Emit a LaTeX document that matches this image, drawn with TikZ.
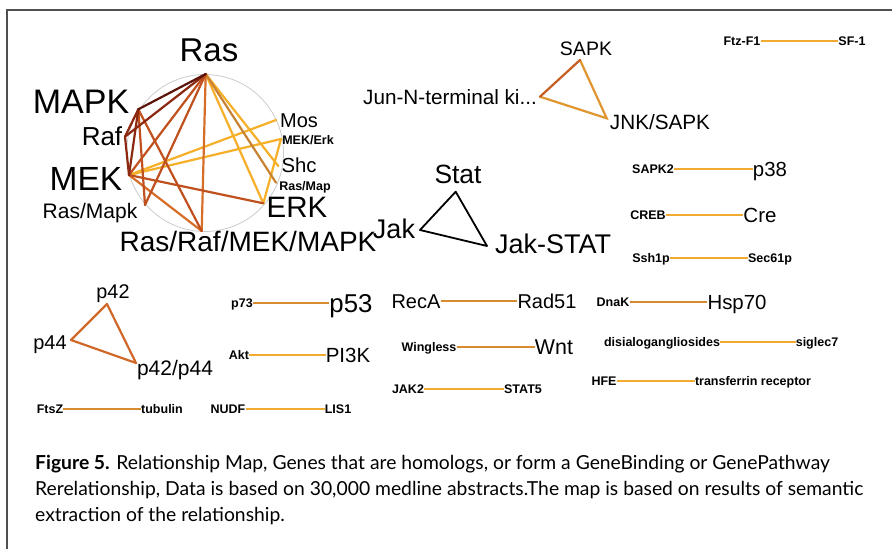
\documentclass[tikz,border=0pt]{standalone}
\usepackage{fontspec}
\setmainfont{Liberation Sans}
\newfontfamily\capfont{Lato}
\definecolor{cA}{HTML}{5A140A}
\definecolor{cB}{HTML}{8C280F}
\definecolor{cC}{HTML}{C0501E}
\definecolor{cD}{HTML}{D76E28}
\definecolor{cE}{HTML}{C88232}
\definecolor{cF}{HTML}{F5AF28}
\definecolor{cY}{HTML}{F0AA32}
\definecolor{cO}{HTML}{D88A30}
\definecolor{cT}{HTML}{D0682A}
\definecolor{cS}{HTML}{E0952F}
\definecolor{frame}{HTML}{505050}
\tikzset{
  lab/.style={inner sep=0pt, font=\fontsize{#1}{#1}\selectfont, text height={0.72*#1pt}, text depth=0pt},
  blab/.style={inner sep=0pt, font=\fontsize{#1}{#1}\selectfont\bfseries, text height={0.72*#1pt}, text depth=0pt},
  edg/.style={draw=#1, line width=2.2pt, line cap=round},
  sedg/.style={draw=#1, line width=2.2pt},
  capline/.style={inner sep=0pt, anchor=base west, font=\capfont\fontsize{19.3}{22}\selectfont}
}
\begin{document}
\begin{tikzpicture}[x=1pt,y=-1pt]
\useasboundingbox (0,0) rectangle (892,549);
\fill[white] (0,0) rectangle (892,549);
% frame
\coordinate (fTR) at (892,10);
\coordinate (fTL) at (7,10);
\coordinate (fBL) at (7,549);
\draw[frame, line width=1.3pt] (fTR) -- (fTL) -- (fBL);

% ---------- Ras cluster ----------
\coordinate (cc) at (205,153);
\draw[black!20, line width=0.8pt] (cc) circle (78.5);
\coordinate (vRas) at (205.7,74);
\coordinate (vMAPK) at (138.3,109.3);
\coordinate (vRaf) at (125,136.7);
\coordinate (vMEK) at (129,175);
\coordinate (vRasMapk) at (145,205);
\coordinate (vRRMM) at (201.7,231);
\coordinate (vERK) at (263.3,203.3);
\coordinate (vRasMap) at (276,182.7);
\coordinate (vShc) at (278.3,166);
\coordinate (vMEKErk) at (281,139);
\coordinate (vMos) at (276,120);

\draw[edg=cF] (vRas) -- (vERK);
\draw[edg=cF] (vRas) -- (vShc);
\draw[edg=cF] (vMEK) -- (vMos);
\draw[edg=cF] (vMEK) -- (vMEKErk);
\draw[edg=cF] (vMEKErk) -- (vERK);
\draw[edg=cE] (vRas) -- (vRasMap);
\draw[edg=cD] (vRas) -- (vRRMM);
\draw[edg=cD] (vMEK) -- (vRRMM);
\draw[edg=cC] (vMEK) -- (vERK);
\draw[edg=cC] (vMAPK) -- (vRRMM);
\draw[edg=cC] (vMAPK) -- (vRasMapk);
\draw[edg=cC] (vRas) -- (vRasMapk);
\draw[edg=cC] (vRas) -- (vMEK);
\draw[edg=cB] (vMAPK) -- (vMEK);
\draw[edg=cB] (vRaf) -- (vMEK);
\draw[edg=cB] (vRaf) -- (vRas);
\draw[edg=cB] (vMAPK) -- (vRaf);
\draw[edg=cA] (vRas) -- (vMAPK);

\node[lab=33] (Ras) at (209,50) {Ras};
\node[lab=34] (MAPK) at (81,101) {MAPK};
\node[lab=26] (Raf) at (102,136) {Raf};
\node[lab=33.5] (MEK) at (86,178) {MEK};
\node[lab=21] (RasMapk) at (90,211) {Ras/Mapk};
\node[lab=28] (RRMM) at (248,241) {Ras/Raf/MEK/MAPK};
\node[lab=29.5] (ERK) at (297,207) {ERK};
\node[blab=12.5] (RasMap) at (305,186) {Ras/Map};
\node[lab=20.3] (Shc) at (299,165) {Shc};
\node[blab=12.5] (MEKErk) at (308,140) {MEK/Erk};
\node[lab=20] (Mos) at (299,120) {Mos};

% ---------- SAPK triangle ----------
\coordinate (vSAPK) at (580,60);
\coordinate (vJun) at (540,96.7);
\coordinate (vJNK) at (606.7,118.3);
\draw[edg=cS] (vJun) -- (vJNK) -- (vSAPK);
\draw[edg=cC!80!cS] (vSAPK) -- (vJun);
\node[lab=19.5] (SAPK) at (586,48) {SAPK};
\node[lab=20.7] (Jun) at (450,97) {Jun-N-terminal ki...};
\node[lab=20.7] (JNK) at (660,122) {JNK/SAPK};

% ---------- Jak/Stat triangle ----------
\coordinate (vStat) at (455.7,191.7);
\coordinate (vJak) at (420,230);
\coordinate (vJS) at (487,246);
\draw[black, line width=1.8pt, line join=round] (vStat) -- (vJak) -- (vJS) -- cycle;
\node[lab=26.4] (Stat) at (458,174) {Stat};
\node[lab=27] (Jak) at (394,229) {Jak};
\node[lab=27] (JakSTAT) at (553,244) {Jak-STAT};

% ---------- p42 triangle ----------
\coordinate (vp42) at (107,304);
\coordinate (vp44) at (71,340);
\coordinate (vp4244) at (136,363);
\draw[cT, line width=2.2pt, line join=round] (vp42) -- (vp44) -- (vp4244) -- cycle;
\node[lab=19.8] (p42) at (113,291) {p42};
\node[lab=20] (p44) at (50,342) {p44};
\node[lab=21] (p4244) at (175,368) {p42/p44};

% ---------- pairs ----------
\node[blab=12.5] (Ftz) at (742,41) {Ftz-F1};
\node[blab=12.5] (SF) at (852,41) {SF-1};
\draw[sedg=cY] (Ftz.east) -- (SF.west);

\node[blab=12.5] (SAPK2) at (653,169) {SAPK2};
\node[lab=20.4] (p38) at (770,169) {p38};
\draw[sedg=cY] (SAPK2.east) -- (p38.west);

\node[blab=12.5] (CREB) at (648,215) {CREB};
\node[lab=20.5] (Cre) at (760,215) {Cre};
\draw[sedg=cY] (CREB.east) -- (Cre.west);

\node[blab=12.5] (Ssh) at (651,258) {Ssh1p};
\node[blab=12.5] (Sec) at (770,258) {Sec61p};
\draw[sedg=cY] (Ssh.east) -- (Sec.west);

\node[blab=12.5] (p73) at (242,303) {p73};
\node[lab=25.8] (p53) at (351,303) {p53};
\draw[sedg=cO] (p73.east) -- (p53.west);

\node[blab=12.5] (Akt) at (239,355) {Akt};
\node[lab=20.5] (PI3K) at (348,355) {PI3K};
\draw[sedg=cY] (Akt.east) -- (PI3K.west);

\node[blab=12.5] (FtsZ) at (50,409) {FtsZ};
\node[blab=12.5] (tub) at (162,409) {tubulin};
\draw[sedg=cO] (FtsZ.east) -- (tub.west);

\node[blab=12.5] (NUDF) at (228,409) {NUDF};
\node[blab=12.5] (LIS) at (338,409) {LIS1};
\draw[sedg=cY] (NUDF.east) -- (LIS.west);

\node[lab=20] (RecA) at (416,301) {RecA};
\node[lab=20] (Rad51) at (547,301) {Rad51};
\draw[sedg=cO] (RecA.east) -- (Rad51.west);

\node[blab=12.5] (Wing) at (429,347) {Wingless};
\node[lab=21.4] (Wnt) at (554,347) {Wnt};
\draw[sedg=cO] (Wing.east) -- (Wnt.west);

\node[blab=12.5] (JAK2) at (408,389) {JAK2};
\node[blab=12.5] (STAT5) at (523,389) {STAT5};
\draw[sedg=cY] (JAK2.east) -- (STAT5.west);

\node[blab=12.5] (DnaK) at (613,302) {DnaK};
\node[lab=20.4] (Hsp) at (737,302) {Hsp70};
\draw[sedg=cO] (DnaK.east) -- (Hsp.west);

\node[blab=12.5] (disia) at (662,342) {disialogangliosides};
\node[blab=12.5] (sig) at (817,342) {siglec7};
\draw[sedg=cY] (disia.east) -- (sig.west);

\node[blab=12.5] (HFE) at (604,381) {HFE};
\node[blab=12.5] (trf) at (753,381) {transferrin receptor};
\draw[sedg=cY] (HFE.east) -- (trf.west);

% ---------- caption ----------
\node[capline] (cap1) at (35,469) {\textbf{Figure 5.} Relationship Map, Genes that are homologs, or form a GeneBinding or GenePathway};
\node[capline] (cap2) at (35,495) {Rerelationship, Data is based on 30,000 medline abstracts.The map is based on results of semantic};
\node[capline] (cap3) at (35,521) {extraction of the relationship.};
\end{tikzpicture}
\end{document}
